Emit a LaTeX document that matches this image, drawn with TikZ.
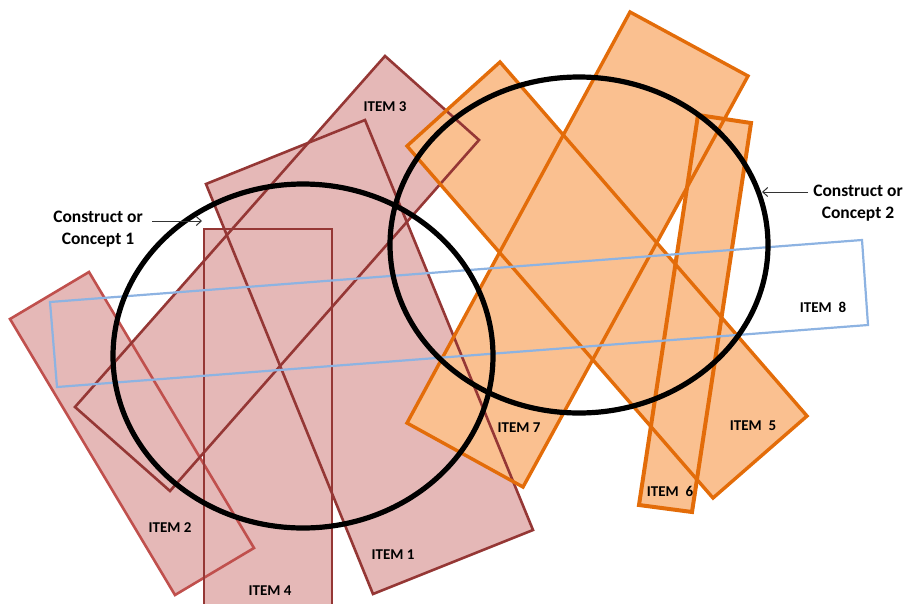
\documentclass[tikz,border=0pt]{standalone}
\usepackage{fontspec}
\setmainfont{Carlito}
\usetikzlibrary{arrows.meta}
\definecolor{redline}{RGB}{149,55,53}
\definecolor{redline2}{RGB}{192,80,77}
\definecolor{redfill}{RGB}{229,184,183}
\definecolor{orline}{RGB}{227,108,9}
\definecolor{orfill}{RGB}{250,192,144}
\definecolor{blueline}{RGB}{141,179,226}
\tikzset{
  redshape/.style={draw=redline, line width=2.6pt},
  redshapeb/.style={draw=redline2, line width=2.6pt},
  orshape/.style={draw=orline, line width=3.4pt, line join=miter},
  orshapeb/.style={draw=orline, line width=4pt, line join=miter},
  blueshape/.style={draw=blueline, line width=2.2pt},
  concept/.style={draw=black, line width=5.2pt},
  itemlbl/.style={font=\bfseries\fontsize{15}{17}\selectfont, inner sep=0pt},
  conlbl/.style={font=\bfseries\fontsize{17.5}{22}\selectfont, align=center, inner sep=0pt},
  pointer/.style={draw=black!80, line width=1pt, -{Straight Barb[length=5pt,width=9pt]}}
}
\begin{document}
\begin{tikzpicture}[x=1pt,y=-1pt]
\useasboundingbox (0,0) rectangle (904,603);
\clip (0,0) rectangle (904,603);
% fills
\fill[redfill] (206,184) -- (365,120) -- (533,530) -- (373,594) -- cycle;
\fill[redfill] (89,272) -- (254,548) -- (175,595) -- (10,319) -- cycle;
\fill[redfill] (385,56) -- (479,140) -- (170,491) -- (75,407) -- cycle;
\fill[redfill] (204,229) -- (332,229) -- (332,620) -- (204,620) -- cycle;
\fill[orfill] (500,62) -- (807,416) -- (713,498) -- (407,146) -- cycle;
\fill[orfill] (698,115) -- (751,123) -- (692,512) -- (639,505) -- cycle;
\fill[orfill] (630,12) -- (748,76) -- (523,487) -- (407,423) -- cycle;
% outlines
\draw[redshape] (206,184) -- (365,120) -- (533,530) -- (373,594) -- cycle;
\draw[redshapeb] (89,272) -- (254,548) -- (175,595) -- (10,319) -- cycle;
\draw[redshape] (385,56) -- (479,140) -- (170,491) -- (75,407) -- cycle;
\draw[redshape] (204,620) -- (204,229) -- (332,229) -- (332,620);
\draw[orshape] (500,62) -- (807,416) -- (713,498) -- (407,146) -- cycle;
\draw[orshapeb] (698,115) -- (751,123) -- (692,512) -- (639,505) -- cycle;
\draw[orshape] (630,12) -- (748,76) -- (523,487) -- (407,423) -- cycle;
\draw[blueshape] (50,302) -- (862,240) -- (868,325) -- (57,387) -- cycle;
% concepts
\draw[concept] (303,356) ellipse [x radius=190, y radius=172];
\draw[concept] (579,245) ellipse [x radius=189, y radius=168];
% item labels
\node[itemlbl] (i1) at (393,555) {ITEM 1};
\node[itemlbl] (i2) at (170,528) {ITEM 2};
\node[itemlbl] (i3) at (385,107) {ITEM 3};
\node[itemlbl] (i4) at (270,591) {ITEM 4};
\node[itemlbl] (i5) at (753,426) {ITEM\ \ 5};
\node[itemlbl] (i6) at (670,491) {ITEM\ \ 6};
\node[itemlbl] (i7) at (519,428) {ITEM 7};
\node[itemlbl] (i8) at (823,307) {ITEM\ \ 8};
% concept labels
\node[conlbl] (c1) at (98,229) {Construct or\\Concept 1};
\node[conlbl] (c2) at (858,203) {Construct or\\Concept 2};
\coordinate (c1tip) at (202,221);
\coordinate (c2tip) at (762,192);
\coordinate (c1start) at (152,221);
\coordinate (c2start) at (808,192);
\draw[pointer] (c1start) -- (c1tip);
\draw[pointer] (c2start) -- (c2tip);
\end{tikzpicture}
\end{document}
